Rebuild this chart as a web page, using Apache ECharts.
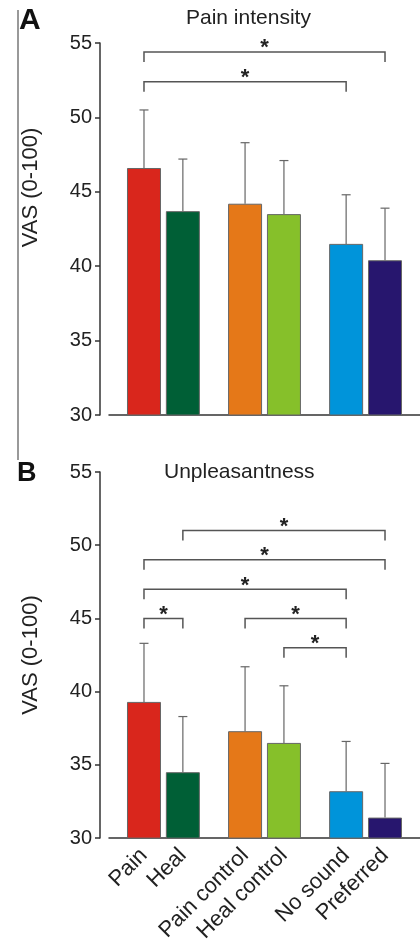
<!DOCTYPE html>
<html><head><meta charset="utf-8">
<script src="https://cdn.jsdelivr.net/npm/echarts@6/dist/echarts.min.js"></script>
<style>html,body{margin:0;padding:0;background:#fff}#c{width:420px;height:945px}</style>
</head><body><div id="c"></div>
<script>
// ---- data ----
const categories = ['Pain', 'Heal', 'Pain control', 'Heal control', 'No sound', 'Preferred'];
const painMean = [46.6, 43.7, 44.2, 43.5, 41.5, 40.4];
const painSd   = [3.9, 3.5, 4.1, 3.6, 3.3, 3.5];
const unplMean = [39.3, 34.5, 37.3, 36.5, 33.2, 31.4];
const unplSd   = [4.0, 3.8, 4.4, 3.9, 3.4, 3.7];
// significance brackets: [from category, to category, level]
const painSig = [[0, 5, 54.4], [0, 4, 52.4]];
const unplSig = [[1, 5, 51], [0, 5, 49], [0, 4, 47], [0, 1, 45], [2, 4, 45], [3, 4, 43]];
const yMin = 30, yMax = 55, yStep = 5;
const titles = ['Pain intensity', 'Unpleasantness'];
const yName = 'VAS (0-100)';

// ---- styles / layout ----
const barColors = ['#D9261C', '#005F36', '#E57818', '#86C02A', '#0094DA', '#27166E'];
const FONT = "'Liberation Sans', Arial, Helvetica, sans-serif";
const SLOTS = 40, LEAD = 4;
const slotOf = i => LEAD + Math.floor(i / 2) * 13 + (i % 2) * 5;
const slotCats = Array.from({length: SLOTS}, () => '');
categories.forEach((c, i) => { slotCats[slotOf(i)] = c; });

function barData(mean) {
  const arr = Array.from({length: SLOTS}, () => null);
  mean.forEach((v, i) => { arr[slotOf(i)] = {value: v, itemStyle: {color: barColors[i]}}; });
  return arr;
}
function errData(mean, sd) {
  return mean.map((v, i) => [slotOf(i), v, +(v + sd[i]).toFixed(2)]);
}
function sigData(sig) {
  return sig.map(s => [slotOf(s[0]), slotOf(s[1]), s[2]]);
}
function renderErr(params, api) {
  const x = api.value(0);
  const p0 = api.coord([x, api.value(1)]);
  const p1 = api.coord([x, api.value(2)]);
  const st = {stroke: '#666', lineWidth: 1.2};
  return {type: 'group', children: [
    {type: 'line', shape: {x1: p0[0], y1: p0[1], x2: p1[0], y2: p1[1]}, style: st},
    {type: 'line', shape: {x1: p1[0] - 4.5, y1: p1[1], x2: p1[0] + 4.5, y2: p1[1]}, style: st}
  ]};
}
function renderSig(params, api) {
  const a = api.coord([api.value(0), api.value(2)]);
  const b = api.coord([api.value(1), api.value(2)]);
  const leg = 10;
  return {type: 'group', children: [
    {type: 'polyline', shape: {points: [[a[0], a[1] + leg], [a[0], a[1]], [b[0], b[1]], [b[0], b[1] + leg]]},
     style: {stroke: '#555', lineWidth: 1.5, fill: null}},
    {type: 'text', style: {text: '*', x: (a[0] + b[0]) / 2, y: a[1] - 3.6, align: 'center', verticalAlign: 'middle',
      textAlign: 'center', textVerticalAlign: 'middle', fill: '#222', font: 'bold 22px ' + FONT}}
  ]};
}

const grids = [
  {left: 109, right: 0, top: 43, height: 372},
  {left: 109, right: 0, top: 472, height: 370.5}
];
const axisLine = {show: true, lineStyle: {color: '#333', width: 1.5}};
const xAxes = [0, 1].map(g => ({
  type: 'category', gridIndex: g, data: slotCats,
  axisLine: axisLine, axisTick: {show: false},
  axisLabel: {show: g === 1, interval: 0, rotate: 45, margin: 14, fontSize: 22, color: '#222', fontFamily: FONT}
}));
const yAxes = [0, 1].map(g => ({
  type: 'value', gridIndex: g, min: yMin, max: yMax, interval: yStep, offset: 9,
  axisLine: axisLine, axisTick: {show: true, length: 5, lineStyle: {color: '#333', width: 1.5}},
  axisLabel: {fontSize: 20, color: '#222', margin: 8, fontFamily: FONT},
  splitLine: {show: false}
}));

const series = [];
[[painMean, painSd, painSig], [unplMean, unplSd, unplSig]].forEach((d, g) => {
  series.push({type: 'bar', xAxisIndex: g, yAxisIndex: g, data: barData(d[0]), barWidth: 34,
    itemStyle: {borderColor: '#666', borderWidth: 1}, silent: true, z: 2});
  series.push({type: 'custom', xAxisIndex: g, yAxisIndex: g, data: errData(d[0], d[1]),
    encode: {x: 0, y: [1, 2]}, renderItem: renderErr, silent: true, z: 3});
  series.push({type: 'custom', xAxisIndex: g, yAxisIndex: g, data: sigData(d[2]),
    encode: {x: [0, 1], y: 2}, renderItem: renderSig, silent: true, z: 3, clip: false});
});

const titleStyle = {fontSize: 21, fontWeight: 'normal', color: '#222', fontFamily: FONT};
const option = {
  animation: false,
  backgroundColor: '#fff',
  title: [
    {text: titles[0], left: 186, top: 8, padding: 0, textStyle: titleStyle},
    {text: titles[1], left: 164, top: 462, padding: 0, textStyle: titleStyle},
    {text: 'A', left: 19, top: 6, padding: 0, textStyle: {fontSize: 30, fontWeight: 'bold', color: '#111', fontFamily: FONT}},
    {text: 'B', left: 17, top: 460, padding: 0, textStyle: {fontSize: 27, fontWeight: 'bold', color: '#111', fontFamily: FONT}}
  ],
  grid: grids, xAxis: xAxes, yAxis: yAxes, series: series,
  graphic: [
    {type: 'line', shape: {x1: 18, y1: 10, x2: 18, y2: 460}, style: {stroke: '#777', lineWidth: 1.5}},
    {type: 'text', x: 31, y: 187.5, rotation: Math.PI / 2,
     style: {text: yName, align: 'center', verticalAlign: 'middle', fill: '#222', font: '22px ' + FONT}},
    {type: 'text', x: 31, y: 655, rotation: Math.PI / 2,
     style: {text: yName, align: 'center', verticalAlign: 'middle', fill: '#222', font: '22px ' + FONT}}
  ]
};
const chart = echarts.init(document.getElementById('c'), null, {renderer: 'canvas'});
chart.setOption(option);
</script>
</body></html>
